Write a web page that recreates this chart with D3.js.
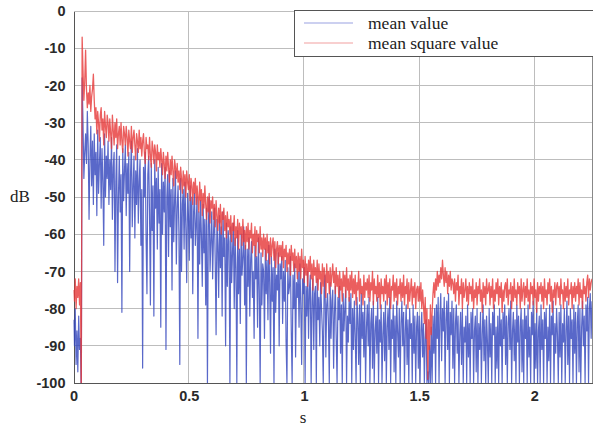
<!DOCTYPE html>
<html><head><meta charset="utf-8">
<script src="https://cdn.jsdelivr.net/npm/d3@7/dist/d3.min.js"></script>
<style>body{margin:0;background:#fff} svg{display:block}</style>
</head><body>
<svg id="chart" width="593" height="427"></svg>
<script>
// ---- data ----
const timeStep = 0.00375; // s between samples
const xTicks = [0, 0.5, 1, 1.5, 2];
const yTicks = [0, -10, -20, -30, -40, -50, -60, -70, -80, -90, -100];
const seriesNames = ["mean value", "mean square value"];

const meanValue = [
-83,-90,-80,-95,-86,-97,-82,-91,-88,-104,-18,-30,-45,-38,-33,-41,-27,-36,-56,-40,
-31,-47,-35,-52,-33,-44,-38,-55,-32,-49,-41,-34,-53,-37,-46,-63,-33,-50,-39,-45,
-35,-52,-40,-48,-34,-56,-42,-38,-70,-46,-36,-73,-50,-39,-54,-44,-81,-37,-51,-43,
-36,-55,-41,-49,-38,-70,-44,-35,-58,-47,-39,-61,-43,-52,-37,-57,-46,-40,-63,-48,
-96,-42,-50,-38,-61,-76,-44,-39,-55,-79,-41,-59,-47,-82,-40,-53,-45,-64,-42,-57,
-48,-85,-41,-60,-46,-54,-42,-91,-50,-44,-66,-43,-58,-48,-75,-45,-62,-51,-43,-68,
-53,-47,-60,-95,-45,-70,-52,-48,-64,-46,-58,-73,-49,-55,-67,-47,-61,-50,-76,-54,
-49,-63,-57,-50,-88,-54,-68,-51,-60,-74,-52,-65,-56,-79,-53,-100,-58,-50,-70,-62,
-54,-72,-60,-53,-67,-87,-56,-63,-77,-55,-69,-58,-82,-54,-66,-61,-90,-57,-74,-59,
-62,-100,-58,-73,-65,-57,-80,-61,-69,-100,-59,-76,-64,-84,-60,-71,-66,-58,-79,-63,
-100,-64,-74,-61,-82,-67,-62,-77,-70,-88,-63,-72,-66,-85,-61,-75,-100,-65,-79,-68,
-70,-88,-64,-76,-67,-83,-63,-73,-92,-66,-78,-69,-100,-64,-81,-71,-75,-65,-90,-68,
-72,-66,-84,-70,-78,-67,-89,-100,-69,-76,-74,-66,-86,-100,-71,-80,-68,-93,-73,-77,
-70,-85,-68,-79,-95,-72,-76,-69,-100,-74,-82,-70,-88,-75,-71,-100,-78,-72,-91,-76,
-74,-100,-72,-83,-77,-90,-73,-80,-86,-100,-75,-71,-93,-79,-76,-84,-100,-73,-88,-78,
-75,-96,-81,-74,-88,-100,-77,-83,-74,-92,-79,-100,-76,-86,-80,-75,-100,-82,-89,-77,
-84,-76,-100,-80,-91,-78,-87,-100,-77,-83,-95,-79,-100,-76,-88,-81,-93,-78,-100,-85,
-79,-90,-77,-100,-84,-80,-96,-78,-100,-86,-82,-92,-77,-100,-83,-89,-79,-100,-87,-81,
-94,-78,-100,-85,-80,-91,-77,-100,-83,-88,-79,-97,-82,-100,-78,-86,-93,-80,-100,-84,
-78,-90,-81,-100,-86,-79,-95,-83,-100,-80,-88,-84,-100,-79,-92,-82,-100,-85,-81,-96,
-82,-100,-86,-81,-93,-84,-100,-88,-83,-100,-97,-100,-90,-100,-85,-100,-82,-92,-80,-100,
-79,-88,-77,-100,-82,-76,-94,-80,-86,-77,-100,-83,-78,-91,-76,-100,-81,-87,-78,-96,
-80,-100,-84,-79,-92,-82,-100,-87,-81,-95,-80,-100,-85,-89,-82,-100,-79,-93,-84,-100,
-81,-88,-80,-100,-86,-82,-97,-80,-100,-84,-91,-81,-100,-87,-79,-94,-83,-100,-82,-89,
-100,-80,-93,-84,-100,-81,-87,-79,-100,-85,-96,-82,-100,-80,-90,-83,-100,-81,-88,-79,
-95,-82,-100,-84,-80,-91,-78,-100,-86,-81,-94,-83,-100,-79,-89,-82,-100,-85,-80,-97,
-83,-100,-80,-88,-82,-100,-79,-93,-85,-100,-81,-87,-78,-100,-84,-96,-80,-100,-86,-82,
-100,-79,-91,-83,-100,-81,-88,-80,-100,-85,-94,-79,-100,-82,-87,-78,-100,-84,-92,-80,
-87,-100,-81,-93,-79,-100,-84,-89,-80,-100,-86,-78,-95,-82,-100,-80,-88,-83,-100,-79,
-92,-81,-100,-84,-79,-97,-80,-100,-85,-78,-90,-82,-100,-79,-86,-77,-100,-80,-76,-88,
-78
];

const meanSquareValue = [
-75,-78,-72,-80,-74,-77,-72,-79,-73,-105,-7,-16,-24,-19,-10.5,-21,-26,-22,-25,-20,
-27,-23,-21,-17,-24,-29,-26,-33,-27,-30,-35,-28,-26,-32,-29,-36,-27,-31,-34,-28,
-30,-35,-29,-33,-37,-28,-32,-36,-30,-34,-29,-37,-33,-31,-36,-30,-35,-38,-31,-33,
-36,-31,-34,-39,-32,-35,-37,-31,-38,-34,-32,-36,-40,-33,-35,-38,-32,-37,-34,-39,
-35,-33,-38,-41,-34,-37,-36,-40,-34,-39,-42,-35,-37,-41,-36,-38,-43,-36,-40,-38,
-42,-37,-40,-44,-38,-41,-45,-39,-43,-38,-42,-46,-40,-44,-39,-43,-47,-40,-42,-45,
-41,-46,-43,-48,-42,-45,-49,-43,-47,-44,-50,-43,-46,-48,-44,-51,-45,-47,-52,-46,
-49,-45,-52,-47,-50,-54,-46,-51,-48,-55,-49,-53,-47,-52,-56,-50,-54,-49,-57,-51,
-53,-50,-56,-52,-58,-51,-55,-59,-53,-57,-52,-60,-54,-56,-53,-59,-55,-61,-54,-58,
-56,-60,-55,-62,-57,-59,-55,-63,-58,-61,-56,-64,-57,-60,-58,-63,-56,-62,-59,-64,
-58,-62,-57,-64,-59,-61,-57,-65,-60,-63,-58,-66,-59,-62,-60,-65,-58,-64,-61,-66,
-60,-64,-61,-67,-60,-65,-62,-68,-61,-66,-63,-61,-67,-62,-69,-64,-62,-68,-63,-66,
-63,-67,-62,-69,-64,-66,-63,-70,-65,-68,-64,-71,-63,-67,-65,-70,-64,-69,-66,-72,
-65,-70,-66,-72,-64,-69,-67,-73,-66,-71,-68,-74,-67,-70,-66,-72,-68,-75,-67,-71,
-69,-73,-67,-75,-68,-72,-70,-76,-68,-74,-69,-71,-77,-68,-73,-70,-76,-69,-74,-71,
-68,-73,-70,-76,-69,-74,-71,-77,-70,-75,-72,-78,-70,-74,-71,-77,-69,-75,-72,-78,
-71,-75,-70,-77,-72,-76,-71,-79,-73,-75,-70,-78,-72,-76,-74,-79,-71,-77,-73,-75,
-72,-77,-71,-78,-73,-75,-70,-79,-72,-76,-74,-78,-71,-77,-73,-80,-72,-76,-74,-78,
-72,-76,-71,-79,-73,-77,-72,-80,-74,-75,-71,-78,-73,-77,-72,-79,-74,-76,-72,-78,
-73,-77,-71,-79,-74,-76,-72,-80,-73,-78,-75,-72,-79,-74,-77,-73,-80,-75,-74,-78,
-74,-78,-73,-80,-75,-79,-84,-77,-88,-80,-99,-83,-91,-79,-87,-81,-76,-73,-77,-72,
-75,-70,-74,-71,-73,-69,-72,-67,-71,-74,-69,-73,-70,-76,-71,-74,-70,-75,-72,-73,
-76,-72,-78,-73,-75,-71,-79,-74,-76,-72,-80,-73,-77,-75,-72,-78,-74,-79,-73,-76,
-74,-78,-72,-80,-75,-77,-73,-79,-74,-76,-72,-78,-75,-81,-73,-77,-74,-79,-72,-76,
-75,-73,-79,-74,-77,-72,-80,-75,-78,-73,-76,-72,-79,-74,-77,-73,-81,-75,-78,-74,
-73,-77,-72,-79,-75,-76,-73,-80,-74,-78,-72,-77,-75,-79,-73,-76,-74,-80,-72,-78,
-75,-73,-79,-74,-77,-72,-78,-75,-80,-73,-76,-74,-79,-72,-77,-75,-81,-73,-78,-74,
-76,-73,-78,-74,-80,-72,-77,-75,-79,-73,-76,-72,-78,-74,-81,-75,-77,-73,-79,-74,
-73,-77,-74,-79,-72,-76,-75,-80,-73,-78,-74,-77,-72,-79,-75,-76,-73,-80,-74,-77,
-73,-78,-74,-76,-72,-79,-73,-77,-75,-80,-72,-76,-74,-78,-73,-71,-77,-72,-75,-73,
-72
];

// ---- layout ----
const svg = d3.select("#chart");
const L = 73.5, R = 592, T = 11, B = 383;
const x = d3.scaleLinear().domain([0, 2.25]).range([L, R]);
const y = d3.scaleLinear().domain([-100, 0]).range([B, T]);

svg.append("defs").append("clipPath").attr("id", "plotclip")
  .append("rect").attr("x", L).attr("y", T).attr("width", R - L).attr("height", B - T);

// grid
const grid = svg.append("g").attr("shape-rendering", "crispEdges");
grid.selectAll(".gx").data(xTicks.filter(d => d > 0)).join("line")
  .attr("x1", d => x(d)).attr("x2", d => x(d)).attr("y1", T).attr("y2", B)
  .attr("stroke", "#bdbdbd").attr("stroke-width", 1);
grid.selectAll(".gy").data(yTicks).join("line")
  .attr("x1", L).attr("x2", R).attr("y1", d => y(d)).attr("y2", d => y(d))
  .attr("stroke", "#bdbdbd").attr("stroke-width", 1);
grid.append("line").attr("x1", R).attr("x2", R).attr("y1", T).attr("y2", B)
  .attr("stroke", "#888");

// axes
const xAxis = d3.axisBottom(x).tickValues(xTicks).tickFormat(d => String(d)).tickSize(0).tickPadding(8);
const yAxis = d3.axisLeft(y).tickValues(yTicks).tickFormat(d => String(d)).tickSize(0).tickPadding(8);
const gx = svg.append("g").attr("transform", `translate(0,${B})`).call(xAxis);
const gy = svg.append("g").attr("transform", `translate(${L},0)`).call(yAxis);
[gx, gy].forEach(g => {
  g.select(".domain").attr("stroke", "#555").attr("shape-rendering", "crispEdges");
  g.selectAll("text").attr("font-family", "Liberation Sans, Arial, sans-serif")
    .attr("font-size", 14.5).attr("font-weight", "bold").attr("fill", "#2a2a2a");
});

// series
const line = d3.line().x((d, i) => x(i * timeStep)).y(d => y(d));
const plot = svg.append("g").attr("clip-path", "url(#plotclip)");
plot.append("path").datum(meanValue).attr("d", line)
  .attr("fill", "none").attr("stroke", "#3547bd").attr("stroke-width", 1.2)
  .attr("stroke-opacity", 0.82).attr("stroke-linejoin", "round");
plot.append("path").datum(meanSquareValue).attr("d", line)
  .attr("fill", "none").attr("stroke", "#e63b3b").attr("stroke-width", 1.3)
  .attr("stroke-opacity", 0.82).attr("stroke-linejoin", "round");

// axis titles
svg.append("text").attr("x", 10).attr("y", 202).text("dB")
  .attr("font-family", "Liberation Serif, Times New Roman, serif").attr("font-size", 17).attr("fill", "#222");
svg.append("text").attr("x", 303).attr("y", 423).attr("text-anchor", "middle").text("s")
  .attr("font-family", "Liberation Serif, Times New Roman, serif").attr("font-size", 17).attr("fill", "#222");

// legend
const lg = svg.append("g");
lg.append("rect").attr("x", 294.5).attr("y", 10.5).attr("width", 320).attr("height", 46)
  .attr("fill", "#fff").attr("stroke", "#555").attr("stroke-width", 1);
const legendColors = ["#9aa2e2", "#f2a0a0"];
seriesNames.forEach((name, k) => {
  const yy = 23 + k * 20;
  lg.append("line").attr("x1", 304).attr("x2", 353).attr("y1", yy).attr("y2", yy)
    .attr("stroke", legendColors[k]).attr("stroke-width", 1.2);
  lg.append("text").attr("x", 368).attr("y", yy + 6).text(name)
    .attr("font-family", "Liberation Serif, Times New Roman, serif").attr("font-size", 17.5).attr("fill", "#222");
});
</script>
</body></html>
